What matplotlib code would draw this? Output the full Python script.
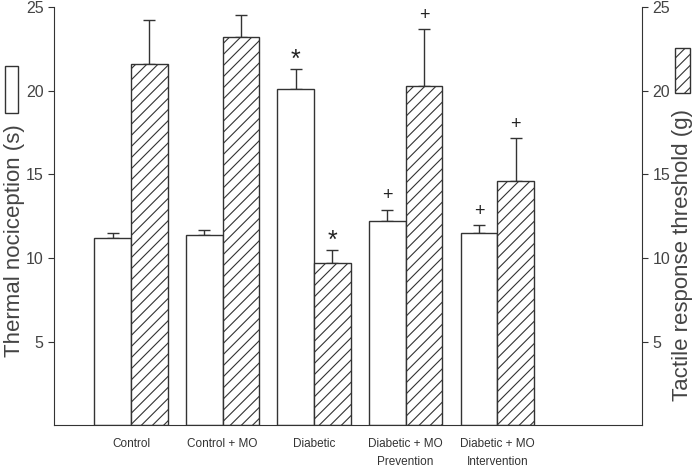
import numpy as np
import matplotlib
matplotlib.use('Agg')
import matplotlib.pyplot as plt
from matplotlib.patches import Rectangle

plt.rcParams['font.family'] = ['Liberation Sans', 'DejaVu Sans']
plt.rcParams['hatch.linewidth'] = 0.8

# Data
groups = ['Control', 'Control + MO', 'Diabetic', 'Diabetic + MO\nPrevention', 'Diabetic + MO\nIntervention']
thermal = [11.2, 11.4, 20.1, 12.2, 11.5]
thermal_err = [0.3, 0.3, 1.2, 0.7, 0.5]
tactile = [21.6, 23.2, 9.7, 20.3, 14.6]
tactile_err = [2.6, 1.3, 0.8, 3.4, 2.6]
thermal_marks = ['', '', '*', '+', '+']
tactile_marks = ['', '', '*', '+', '+']

edge = '#333333'
fig = plt.figure(figsize=(6.97, 4.69), dpi=100)
ax = fig.add_axes([0.0775, 0.093, 0.8435, 0.892])

x = np.arange(len(groups))
w = 0.40
ax.bar(x - w / 2, thermal, w, color='white', edgecolor=edge, linewidth=1, zorder=2)
ax.errorbar(x - w / 2, thermal, yerr=[np.zeros(5), thermal_err], fmt='none',
            ecolor=edge, elinewidth=1, capsize=4.5, capthick=1, zorder=1)
ax.bar(x + w / 2, tactile, w, color='white', edgecolor=edge, hatch='///', linewidth=1, zorder=2)
ax.errorbar(x + w / 2, tactile, yerr=[np.zeros(5), tactile_err], fmt='none',
            ecolor=edge, elinewidth=1, capsize=4.5, capthick=1, zorder=1)

for i in range(len(groups)):
    for xi, v, e, m in [(x[i] - w / 2, thermal[i], thermal_err[i], thermal_marks[i]),
                        (x[i] + w / 2, tactile[i], tactile_err[i], tactile_marks[i])]:
        if m == '*':
            ax.text(xi, v + e - 0.2, m, ha='center', va='bottom', fontsize=18, color='#222222')
        elif m == '+':
            ax.text(xi, v + e + 0.3, m, ha='center', va='bottom', fontsize=13, color='#222222')

ax.set_xlim(-0.84, 5.58)
ax.set_ylim(0, 25)
ax.set_yticks([5, 10, 15, 20, 25])
ax.set_xticks(x)
ax.set_xticklabels(groups, fontsize=8.5, color='#333333', linespacing=1.7)
ax.tick_params(axis='x', length=0, pad=9)
ax.tick_params(axis='y', labelsize=11.5, labelcolor='#444444', color=edge, length=4, direction='out')
for s in ['top', 'right']:
    ax.spines[s].set_visible(False)
for s in ['left', 'bottom']:
    ax.spines[s].set_color(edge)

ax2 = ax.twinx()
ax2.set_ylim(0, 25)
ax2.set_yticks([5, 10, 15, 20, 25])
ax2.tick_params(axis='y', labelsize=11.5, labelcolor='#444444', color=edge, length=4, direction='out')
for s in ['top', 'left', 'bottom']:
    ax2.spines[s].set_visible(False)
ax2.spines['right'].set_color(edge)

# axis labels and key boxes
fig.text(0.021, 0.486, 'Thermal nociception (s)', rotation=90, ha='center', va='center',
         fontsize=16, color='#444444')
fig.text(0.979, 0.456, 'Tactile response threshold (g)', rotation=90, ha='center', va='center',
         fontsize=16, color='#444444')
fig.patches.append(Rectangle((5 / 697, 1 - 113 / 469), 13 / 697, 47 / 469, transform=fig.transFigure,
                             facecolor='white', edgecolor=edge, linewidth=1))
fig.patches.append(Rectangle((675 / 697, 1 - 93 / 469), 15 / 697, 45 / 469, transform=fig.transFigure,
                             facecolor='white', edgecolor=edge, hatch='///', linewidth=1))

fig.savefig('out.png', dpi=100)
